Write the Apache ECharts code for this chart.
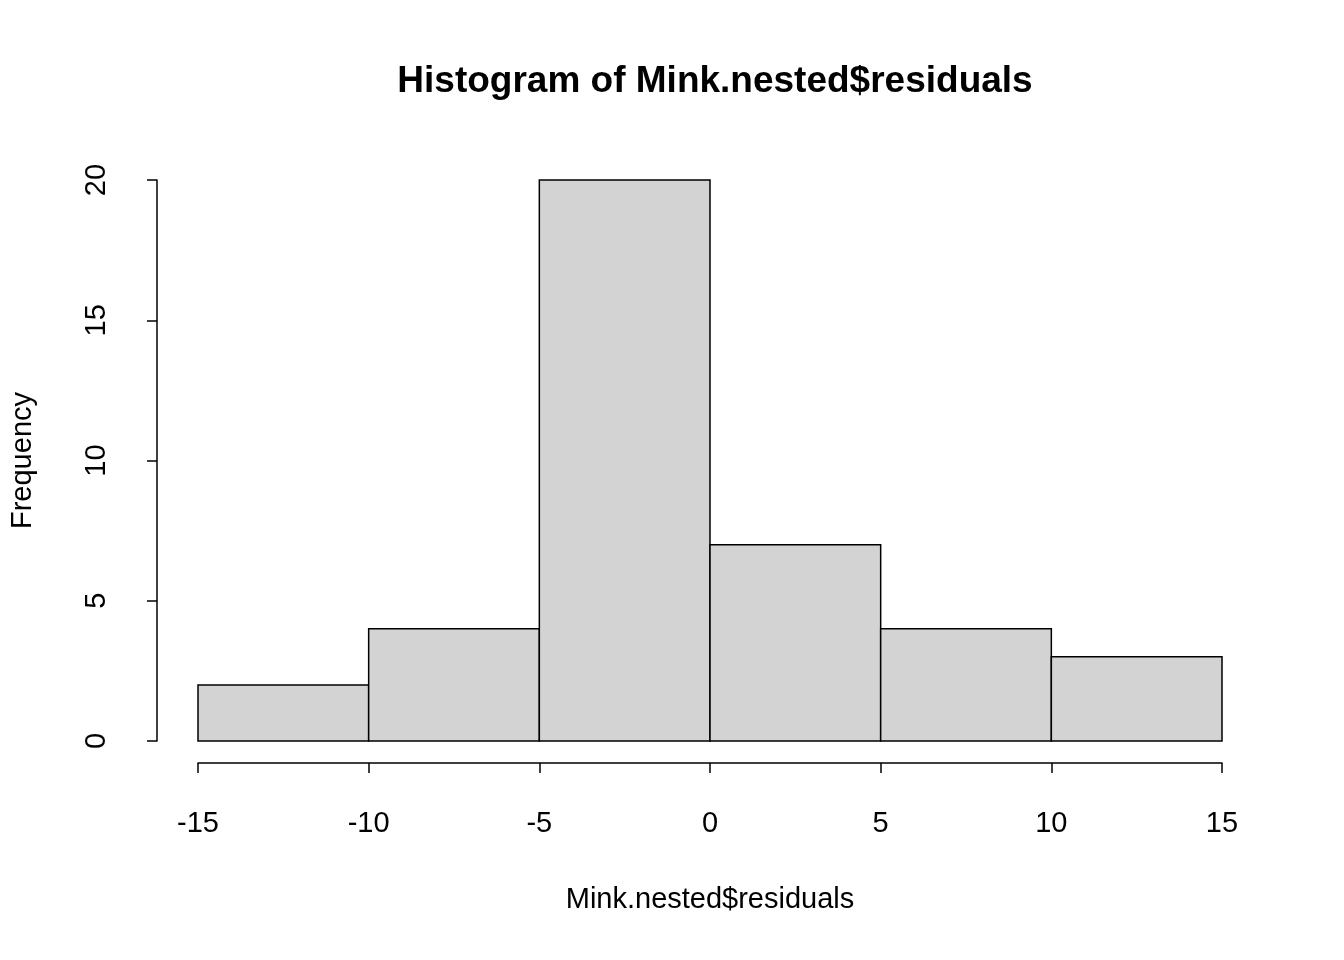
<!DOCTYPE html>
<html>
<head>
<meta charset="utf-8">
<script src="https://cdn.jsdelivr.net/npm/echarts@6/dist/echarts.min.js"></script>
<style>html,body{margin:0;background:#fff}#chart{width:1344px;height:960px}</style>
</head>
<body>
<div id="chart"></div>
<script>
// histogram bins and counts
const binStarts = [-15, -10, -5, 0, 5, 10];
const binEnds = [-10, -5, 0, 5, 10, 15];
const counts = [2, 4, 20, 7, 4, 3];

const font = 'Liberation Sans, Arial, sans-serif';
const chart = echarts.init(document.getElementById('chart'));

const binData = binStarts.map((s, i) => [s, binEnds[i], counts[i]]);

chart.setOption({
  animation: false,
  backgroundColor: '#fff',
  title: {
    text: 'Histogram of Mink.nested$residuals',
    left: 710, top: 58, textAlign: 'center',
    textStyle: { fontFamily: font, fontSize: 37, fontWeight: 'bold', color: '#000' }
  },
  grid: { left: 198, right: 122, top: 180, bottom: 219 },
  xAxis: {
    type: 'value', min: -15, max: 15, interval: 5,
    offset: 22,
    name: 'Mink.nested$residuals', nameLocation: 'middle', nameGap: 122,
    nameTextStyle: { fontFamily: font, fontSize: 29, color: '#000' },
    axisLine: { show: true, onZero: false, lineStyle: { color: '#000', width: 1.5 } },
    axisTick: { show: true, length: 10, lineStyle: { color: '#000', width: 1.5 } },
    axisLabel: { fontFamily: font, fontSize: 29, color: '#000', margin: 46 },
    splitLine: { show: false }
  },
  yAxis: {
    type: 'value', min: 0, max: 20, interval: 5,
    offset: 41,
    name: 'Frequency', nameLocation: 'middle', nameGap: 120,
    nameTextStyle: { fontFamily: font, fontSize: 29, color: '#000' },
    axisLine: { show: true, onZero: false, lineStyle: { color: '#000', width: 1.5 } },
    axisTick: { show: true, length: 10, lineStyle: { color: '#000', width: 1.5 } },
    axisLabel: { fontFamily: font, fontSize: 29, color: '#000', rotate: 90, margin: 46 },
    splitLine: { show: false }
  },
  series: [{
    type: 'custom',
    data: binData,
    encode: { x: [0, 1], y: 2 },
    renderItem: (params, api) => {
      const p0 = api.coord([api.value(0), api.value(2)]);
      const p1 = api.coord([api.value(1), 0]);
      return {
        type: 'rect',
        shape: { x: p0[0], y: p0[1], width: p1[0] - p0[0], height: p1[1] - p0[1] },
        style: { fill: '#d3d3d3', stroke: '#000', lineWidth: 1.5 }
      };
    }
  }]
});
</script>
</body>
</html>
